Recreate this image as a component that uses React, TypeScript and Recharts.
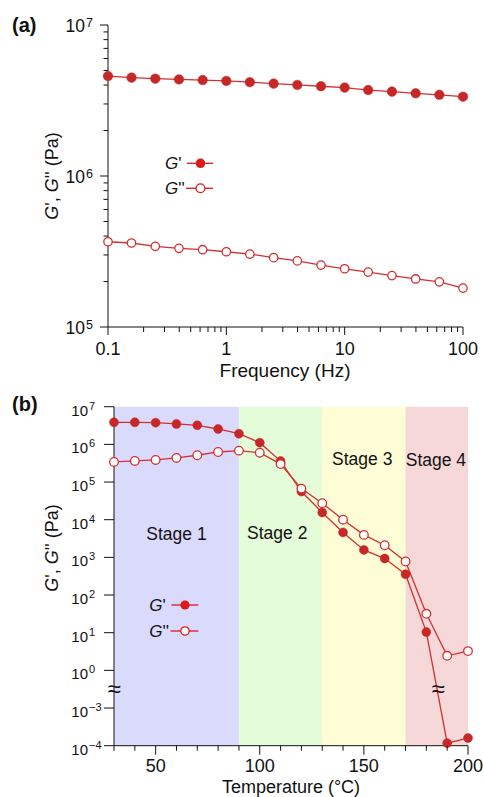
import React from 'react'
import { LineChart, Line, XAxis, YAxis, ReferenceArea, ReferenceDot } from 'recharts'

const FONT = '"Liberation Sans", Arial, Helvetica, sans-serif'
const INK = '#111'
const LINE_RED = '#d33030'
const DOT_RED = '#c62828'
const LEGEND_RED = '#dd1a1a'

// (a) frequency sweep
const freqHz = [0.1, 0.158, 0.251, 0.398, 0.631, 1, 1.58, 2.51, 3.98, 6.31, 10, 15.8, 25.1, 39.8, 63.1, 100]
const storageFreq = [4.59e6, 4.48e6, 4.41e6, 4.36e6, 4.32e6, 4.26e6, 4.18e6, 4.09e6, 4.01e6, 3.93e6, 3.85e6, 3.71e6, 3.62e6, 3.53e6, 3.45e6, 3.35e6]
const lossFreq = [3.67e5, 3.6e5, 3.42e5, 3.32e5, 3.25e5, 3.15e5, 3.04e5, 2.88e5, 2.74e5, 2.57e5, 2.43e5, 2.31e5, 2.19e5, 2.08e5, 1.99e5, 1.81e5]
const freqTicks = [0.1, 0.2, 0.3, 0.4, 0.5, 0.6, 0.7, 0.8, 0.9, 1, 2, 3, 4, 5, 6, 7, 8, 9, 10, 20, 30, 40, 50, 60, 70, 80, 90, 100]
const modTicksA = [1e5, 2e5, 3e5, 4e5, 5e5, 6e5, 7e5, 8e5, 9e5, 1e6, 2e6, 3e6, 4e6, 5e6, 6e6, 7e6, 8e6, 9e6, 1e7]

// (b) temperature sweep
const tempC = [30, 40, 50, 60, 70, 80, 90, 100, 110, 120, 130, 140, 150, 160, 170, 180, 190, 200]
const storageTemp = [3.85e6, 3.85e6, 3.77e6, 3.48e6, 3.21e6, 2.56e6, 1.92e6, 1.11e6, 3.6e5, 5.6e4, 1.55e4, 4.6e3, 1.58e3, 930, 356, 10.4, 1.17e-4, 1.6e-4]
const lossTemp = [3.41e5, 3.63e5, 3.86e5, 4.36e5, 5.14e5, 6.28e5, 6.81e5, 6.0e5, 3.0e5, 6.7e4, 2.75e4, 1.0e4, 3.95e3, 2.1e3, 776, 31.8, 2.44, 3.25]
const tempTicks = [30, 40, 50, 60, 70, 80, 90, 100, 110, 120, 130, 140, 150, 160, 170, 180, 190, 200]
const tempLabels = [50, 100, 150, 200]
const decadeTicksB = [7, 6, 5, 4, 3, 2, 1, 0, -1, -2]
const decadeLabelsB = ['7', '6', '5', '4', '3', '2', '1', '0', '−3', '−4']
const stageNames = ['Stage 1', 'Stage 2', 'Stage 3', 'Stage 4']
const stageFrom = [30, 90, 130, 170]
const stageTo = [90, 130, 170, 200]
const stageFill = ['#dadafc', '#e4fcd7', '#fefdd6', '#f6d8d8']

// axis below 1 Pa is cut: 10^-3 sits one decade under 10^0
const brokenLog = (v: number) => (v >= 0.01 ? Math.log10(v) : Math.log10(v) + 2)

const freqData = freqHz.map((f, i) => ({ f, gs: storageFreq[i], gl: lossFreq[i] }))
const tempData = tempC.map((t, i) => ({ t, gs: brokenLog(storageTemp[i]), gl: brokenLog(lossTemp[i]) }))

const isDecade = (v: number) => Math.abs(Math.log10(v) - Math.round(Math.log10(v))) < 1e-6

function FreqTick({ x, y, payload }: any) {
  const v = payload.value
  const major = isDecade(v)
  return (
    <g>
      <line x1={x} x2={x} y1={y} y2={y + (major ? 8 : 5)} stroke={INK} />
      {major && (
        <text x={x} y={y + 28} textAnchor="middle" fontSize={18} fill={INK}>
          {String(v)}
        </text>
      )}
    </g>
  )
}

function ModTickA({ x, y, payload }: any) {
  const v = payload.value
  const major = isDecade(v)
  return (
    <g>
      <line x1={x} x2={x - (major ? 8 : 4.5)} y1={y} y2={y} stroke={INK} />
      {major && (
        <>
          <text x={x - 23} y={y + 7} textAnchor="end" fontSize={17.5} fill={INK}>10</text>
          <text x={x - 22} y={y + 2} fontSize={12.5} fill={INK}>{Math.round(Math.log10(v))}</text>
        </>
      )}
    </g>
  )
}

function TempTick({ x, y, payload }: any) {
  const v = payload.value
  const major = tempLabels.includes(v)
  return (
    <g>
      <line x1={x} x2={x} y1={y} y2={y + (major ? 9 : 5)} stroke={INK} />
      {major && (
        <text x={x} y={y + 26.5} textAnchor="middle" fontSize={18} fill={INK}>
          {v}
        </text>
      )}
    </g>
  )
}

function ModTickB({ x, y, payload }: any) {
  const idx = decadeTicksB.indexOf(payload.value)
  return (
    <g>
      <line x1={x} x2={x - 10} y1={y} y2={y} stroke={INK} />
      <text x={x - 26} y={y + 9} textAnchor="end" fontSize={15} fill={INK}>10</text>
      <text x={x - 25} y={y + 3} fontSize={11} fill={INK}>{decadeLabelsB[idx]}</text>
    </g>
  )
}

const textShape = (label: string, size: number, dy: number) => (p: any) => (
  <text x={p.cx} y={p.cy + dy} textAnchor="middle" fontSize={size} fill={INK}>
    {label}
  </text>
)

const GTitle = ({ x, y }: { x: number; y: number }) => (
  <text x={x} y={y} transform={`rotate(-90 ${x} ${y})`} textAnchor="middle" fontSize={18} fill={INK}>
    <tspan fontStyle="italic">G</tspan>
    {"', "}
    <tspan fontStyle="italic">G</tspan>
    {"'' (Pa)"}
  </text>
)

const LegendRows = ({ tx, x1, x2, cx, y1, y2, r }: any) => (
  <g>
    <text x={tx} y={y1 + 6} fontSize={17} fill={INK}>
      <tspan fontStyle="italic">G</tspan>'
    </text>
    <line x1={x1 + 1} x2={x2} y1={y1} y2={y1} stroke={LEGEND_RED} strokeWidth={1.3} />
    <circle cx={cx} cy={y1} r={r + 0.4} fill={LEGEND_RED} />
    <text x={tx} y={y2 + 6} fontSize={17} fill={INK}>
      <tspan fontStyle="italic">G</tspan>''
    </text>
    <line x1={x1} x2={x2} y1={y2} y2={y2} stroke={LEGEND_RED} strokeWidth={1.3} />
    <circle cx={cx} cy={y2} r={r} fill="#fff" stroke={LEGEND_RED} strokeWidth={1.3} />
  </g>
)

export default function App() {
  return (
    <div style={{ position: 'absolute', left: 0, top: 0, width: 484, height: 797, fontFamily: FONT, background: '#fff' }}>
      <div style={{ position: 'absolute', left: 0, top: 0 }}>
        <LineChart width={484} height={390} data={freqData} margin={{ top: 25, right: 21, bottom: 33, left: 48 }}>
          <XAxis
            dataKey="f"
            type="number"
            scale="log"
            domain={[0.1, 100]}
            ticks={freqTicks}
            interval={0}
            height={30}
            tickSize={0}
            tickMargin={0}
            tickLine={false}
            axisLine={{ stroke: INK }}
            tick={(p: any) => <FreqTick {...p} />}
          />
          <YAxis
            type="number"
            scale="log"
            domain={[1e5, 1e7]}
            ticks={modTicksA}
            interval={0}
            width={60}
            tickSize={0}
            tickMargin={0}
            tickLine={false}
            axisLine={{ stroke: INK }}
            tick={(p: any) => <ModTickA {...p} />}
          />
          <Line dataKey="gs" type="linear" stroke={LINE_RED} strokeWidth={1.3}
            dot={{ r: 4.8, fill: DOT_RED, stroke: DOT_RED, strokeWidth: 0.5 }} isAnimationActive={false} />
          <Line dataKey="gl" type="linear" stroke={LINE_RED} strokeWidth={1.3}
            dot={{ r: 4.2, fill: '#fff', stroke: LINE_RED, strokeWidth: 1.3 }} isAnimationActive={false} />
        </LineChart>
      </div>

      <div style={{ position: 'absolute', left: 0, top: 390 }}>
        <LineChart width={484} height={407} data={tempData} margin={{ top: 16.7, right: 16, bottom: 21.3, left: 54 }}>
          {stageNames.map((s, i) => (
            <ReferenceArea key={s} x1={stageFrom[i]} x2={stageTo[i]} fill={stageFill[i]} fillOpacity={1} stroke="none" />
          ))}
          <XAxis
            dataKey="t"
            type="number"
            domain={[30, 200]}
            ticks={tempTicks}
            interval={0}
            height={30}
            tickSize={0}
            tickMargin={0}
            tickLine={false}
            axisLine={{ stroke: INK }}
            tick={(p: any) => <TempTick {...p} />}
          />
          <YAxis
            type="number"
            domain={[-2, 7]}
            ticks={decadeTicksB}
            interval={0}
            width={60}
            tickSize={0}
            tickMargin={0}
            tickLine={false}
            axisLine={{ stroke: INK }}
            tick={(p: any) => <ModTickB {...p} />}
          />
          <Line dataKey="gs" type="linear" stroke={LINE_RED} strokeWidth={1.3}
            dot={{ r: 4.5, fill: DOT_RED, stroke: DOT_RED, strokeWidth: 0.5 }} isAnimationActive={false} />
          <Line dataKey="gl" type="linear" stroke={LINE_RED} strokeWidth={1.3}
            dot={{ r: 4.3, fill: '#fff', stroke: LINE_RED, strokeWidth: 1.3 }} isAnimationActive={false} />
          <ReferenceDot x={60} y={3.62} r={0} shape={textShape(stageNames[0], 17.5, 6)} />
          <ReferenceDot x={108.4} y={3.65} r={0} shape={textShape(stageNames[1], 17.5, 6)} />
          <ReferenceDot x={149.2} y={5.61} r={0} shape={textShape(stageNames[2], 17.5, 6)} />
          <ReferenceDot x={184.6} y={5.58} r={0} shape={textShape(stageNames[3], 17.5, 6)} />
          <ReferenceDot x={30} y={-0.5} r={0} shape={textShape('≈', 24, 8)} />
          <ReferenceDot x={185.6} y={-0.5} r={0} shape={textShape('≈', 24, 8)} />
        </LineChart>
      </div>

      <svg width={484} height={797} style={{ position: 'absolute', left: 0, top: 0, pointerEvents: 'none' }}>
        <text x={12} y={32} fontSize={20} fontWeight="bold" fill={INK}>(a)</text>
        <text x={12} y={411} fontSize={20} fontWeight="bold" fill={INK}>(b)</text>
        <GTitle x={58} y={176} />
        <GTitle x={58} y={548} />
        <text x={285} y={377} textAnchor="middle" fontSize={19} fill={INK}>Frequency (Hz)</text>
        <text x={291} y={792.5} textAnchor="middle" fontSize={18} fill={INK}>Temperature (°C)</text>
        <LegendRows tx={165} x1={186} x2={213} cx={200.5} y1={163.3} y2={188.3} r={4.4} />
        <LegendRows tx={149.3} x1={170.5} x2={198.3} cx={185} y1={605} y2={631} r={4.2} />
      </svg>
    </div>
  )
}
